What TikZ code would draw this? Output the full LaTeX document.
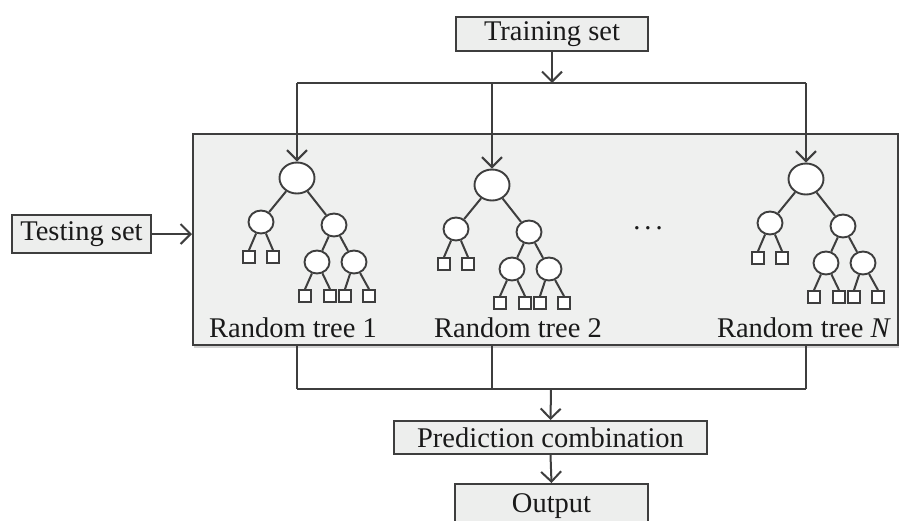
\documentclass[tikz,border=0pt]{standalone}
\usepackage{fontspec}
\setmainfont{Liberation Serif}
\usetikzlibrary{arrows.meta,shapes.geometric,shadows}
\definecolor{ln}{HTML}{3E3E3E}
\definecolor{bx}{HTML}{EDEEED}
\definecolor{panelc}{HTML}{EFF0EF}
\definecolor{txt}{HTML}{1A1A1A}
\tikzset{
  lbl/.style={draw=ln, line width=2pt, fill=bx, inner sep=0pt, text=txt,
    font=\fontsize{28.5}{30}\selectfont},
  conn/.style={draw=ln, line width=2pt},
  arr/.style={conn, -{Straight Barb[length=10pt,width=20pt,line width=2pt]}},
  bignode/.style={ellipse, draw=ln, fill=white, line width=1.9pt,
    minimum width=35pt, minimum height=31pt, inner sep=0pt},
  midnode/.style={ellipse, draw=ln, fill=white, line width=1.9pt,
    minimum width=25pt, minimum height=23pt, inner sep=0pt},
  leaf/.style={rectangle, draw=ln, fill=white, line width=1.8pt,
    minimum size=12pt, inner sep=0pt},
  treelbl/.style={text=txt, font=\fontsize{28.5}{30}\selectfont, inner sep=0pt},
}
\newcommand\rtree[3]{%
  \node[bignode] (#1r) at (#2,#3) {};
  \node[midnode] (#1a) at ({#2-36},{#3+44}) {};
  \node[midnode] (#1b) at ({#2+37},{#3+47}) {};
  \node[leaf] (#1a1) at ({#2-48},{#3+79}) {};
  \node[leaf] (#1a2) at ({#2-24},{#3+79}) {};
  \node[midnode] (#1c) at ({#2+20},{#3+84}) {};
  \node[midnode] (#1d) at ({#2+57},{#3+84}) {};
  \node[leaf] (#1c1) at ({#2+8},{#3+118}) {};
  \node[leaf] (#1c2) at ({#2+33},{#3+118}) {};
  \node[leaf] (#1d1) at ({#2+48},{#3+118}) {};
  \node[leaf] (#1d2) at ({#2+72},{#3+118}) {};
  \draw[conn] (#1r) -- (#1a);
  \draw[conn] (#1r) -- (#1b);
  \draw[conn] (#1a) -- (#1a1.north);
  \draw[conn] (#1a) -- (#1a2.north);
  \draw[conn] (#1b) -- (#1c);
  \draw[conn] (#1b) -- (#1d);
  \draw[conn] (#1c) -- (#1c1.north);
  \draw[conn] (#1c) -- (#1c2.north);
  \draw[conn] (#1d) -- (#1d1.north);
  \draw[conn] (#1d) -- (#1d2.north);
}
\begin{document}
\begin{tikzpicture}[x=1pt,y=-1pt]
\useasboundingbox (0,0) rectangle (899,520);
% panel
\node[draw=ln, fill=panelc, line width=2pt, minimum width=705pt, minimum height=211pt,
  inner sep=0pt, anchor=north west,
  drop shadow={shadow xshift=1pt, shadow yshift=-2.5pt, opacity=0.35}] (panel) at (192,133) {};
% boxes
\node[lbl, minimum width=192pt, minimum height=34pt] (train) at (552,34) {Training set};
\node[lbl, minimum width=139pt, minimum height=38pt] (test) at (81.5,234) {Testing set};
\node[lbl, minimum width=313pt, minimum height=33pt] (pred) at (550.5,437.5) {Prediction combination};
\node[lbl, minimum width=193pt, minimum height=44pt] (out) at (551.5,506) {Output};
% trees
\rtree{t1}{297}{178}
\rtree{t2}{492}{185}
\rtree{t3}{806}{179}
\node[treelbl] (l1) at (293,328) {Random tree 1};
\node[treelbl] (l2) at (518,328) {Random tree 2};
\node[treelbl] (l3) at (804,328) {Random tree \textit{N}};
\node[treelbl] (dots) at (648,228) {.\hspace{4pt}.\hspace{4pt}.};
% top connectors
\coordinate (hT) at (552,83);
\draw[arr] (train.south) -- (hT);
\draw[conn] (t1r |- hT) -- (t3r |- hT);
\draw[arr] (t1r |- hT) -- (t1r.north);
\draw[arr] (t2r |- hT) -- (t2r.north);
\draw[arr] (t3r |- hT) -- (t3r.north);
% testing
\draw[arr] (test.east) -- (panel.west |- test.east);
% bottom connectors
\coordinate (hB) at (551,389);
\draw[conn] (t1r |- panel.south) -- (t1r |- hB);
\draw[conn] (t2r |- panel.south) -- (t2r |- hB);
\draw[conn] (t3r |- panel.south) -- (t3r |- hB);
\draw[conn] (t1r |- hB) -- (t3r |- hB);
\draw[arr] (hB) -- (pred.north);
\draw[arr] (pred.south) -- (out.north);
\end{tikzpicture}
\end{document}
